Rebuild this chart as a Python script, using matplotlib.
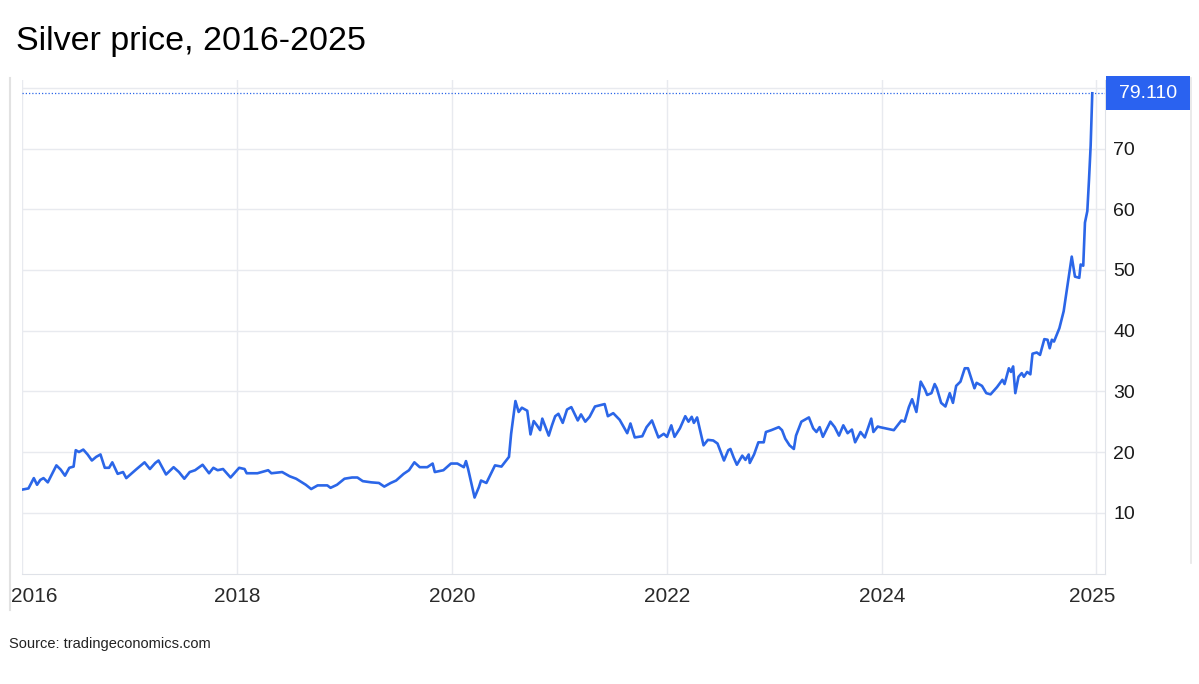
import matplotlib
matplotlib.use("Agg")
import matplotlib.pyplot as plt
import matplotlib.transforms as mtransforms
from matplotlib.patches import Rectangle
from matplotlib.lines import Line2D

plt.rcParams['font.family'] = ['Liberation Sans', 'DejaVu Sans']

# weekly-ish readings (decimal year, USD/oz)
years_a = [2016.00, 2016.06, 2016.11, 2016.14, 2016.17, 2016.20, 2016.24, 2016.32, 2016.36, 2016.40,
           2016.44, 2016.48, 2016.50, 2016.53, 2016.57, 2016.61, 2016.65, 2016.69, 2016.73, 2016.77,
           2016.81, 2016.84, 2016.89, 2016.94, 2016.97, 2017.06, 2017.14, 2017.19, 2017.24, 2017.27,
           2017.34, 2017.41, 2017.46, 2017.51, 2017.56, 2017.61, 2017.68, 2017.74, 2017.78, 2017.82,
           2017.87, 2017.94, 2018.02, 2018.07, 2018.09, 2018.19, 2018.29, 2018.32, 2018.42, 2018.49,
           2018.55, 2018.64, 2018.69, 2018.75, 2018.84, 2018.87, 2018.93, 2019.00, 2019.07, 2019.12,
           2019.17, 2019.25, 2019.32, 2019.37, 2019.43, 2019.48, 2019.55, 2019.60, 2019.65, 2019.70,
           2019.77, 2019.82, 2019.84, 2019.92, 2019.99, 2020.05, 2020.11, 2020.13, 2020.15, 2020.21,
           2020.25, 2020.27, 2020.32, 2020.40, 2020.46, 2020.53, 2020.55]
prices_a = [13.8, 14.0, 15.7, 14.6, 15.4, 15.7, 15.0, 17.8, 17.1, 16.1,
            17.4, 17.6, 20.3, 20.0, 20.4, 19.6, 18.6, 19.2, 19.6, 17.4,
            17.4, 18.3, 16.4, 16.7, 15.7, 17.1, 18.3, 17.2, 18.2, 18.6,
            16.3, 17.5, 16.7, 15.6, 16.7, 17.0, 17.9, 16.5, 17.4, 17.0,
            17.2, 15.8, 17.4, 17.2, 16.5, 16.5, 17.0, 16.5, 16.7, 16.0,
            15.6, 14.6, 13.9, 14.5, 14.5, 14.1, 14.6, 15.6, 15.8, 15.8,
            15.2, 15.0, 14.9, 14.3, 14.9, 15.3, 16.4, 17.0, 18.3, 17.5,
            17.5, 18.1, 16.7, 17.0, 18.1, 18.1, 17.5, 18.5, 17.2, 12.5,
            14.2, 15.3, 14.9, 17.8, 17.6, 19.2, 23.0]

years_b = [2020.59, 2020.62, 2020.65, 2020.70, 2020.73, 2020.76, 2020.79, 2020.82, 2020.84, 2020.90,
           2020.93, 2020.96, 2020.99, 2021.03, 2021.07, 2021.11, 2021.17, 2021.20, 2021.24, 2021.28,
           2021.33, 2021.42, 2021.45, 2021.50, 2021.56, 2021.63, 2021.66, 2021.70, 2021.77, 2021.81,
           2021.86, 2021.92, 2021.97, 2022.00, 2022.04, 2022.07, 2022.12, 2022.17, 2022.20, 2022.23,
           2022.25, 2022.28, 2022.34, 2022.38, 2022.43, 2022.47, 2022.53, 2022.57, 2022.59, 2022.62,
           2022.65, 2022.70, 2022.73, 2022.76, 2022.77, 2022.81, 2022.85, 2022.90, 2022.92, 2022.97,
           2023.04, 2023.07, 2023.10, 2023.14, 2023.18, 2023.20, 2023.25, 2023.28, 2023.32, 2023.36,
           2023.39, 2023.42, 2023.45, 2023.52, 2023.56, 2023.60, 2023.64, 2023.68, 2023.72, 2023.75,
           2023.80, 2023.84, 2023.90, 2023.92, 2023.96]
prices_b = [28.4, 26.6, 27.3, 26.8, 22.9, 25.1, 24.4, 23.6, 25.5, 22.7,
            24.4, 25.9, 26.3, 24.8, 27.0, 27.4, 25.2, 26.2, 25.0, 25.8,
            27.5, 27.9, 25.9, 26.4, 25.3, 23.1, 24.7, 22.4, 22.6, 24.1,
            25.2, 22.4, 23.0, 22.5, 24.4, 22.5, 23.9, 25.9, 25.0, 25.8,
            24.8, 25.7, 21.1, 22.0, 21.9, 21.4, 18.6, 20.3, 20.5, 19.1,
            17.9, 19.4, 18.7, 19.6, 18.2, 19.6, 21.6, 21.6, 23.3, 23.6,
            24.1, 23.6, 22.2, 21.1, 20.5, 22.7, 25.0, 25.3, 25.7, 23.9,
            23.3, 24.1, 22.5, 25.0, 24.1, 22.7, 24.4, 23.1, 23.7, 21.6,
            23.3, 22.4, 25.5, 23.3, 24.2]

years_c = [2023.98, 2024.11, 2024.18, 2024.21, 2024.25, 2024.28, 2024.32, 2024.36, 2024.40, 2024.42,
           2024.46, 2024.49, 2024.51, 2024.55, 2024.59, 2024.63, 2024.66, 2024.69, 2024.73, 2024.77,
           2024.80, 2024.86, 2024.88, 2024.93, 2024.97, 2025.01, 2025.07, 2025.12, 2025.14, 2025.18,
           2025.20, 2025.22, 2025.24, 2025.27, 2025.30, 2025.32, 2025.35, 2025.38, 2025.40, 2025.44,
           2025.47, 2025.51, 2025.54, 2025.56, 2025.58, 2025.60, 2025.65, 2025.69, 2025.72, 2025.765,
           2025.795, 2025.835, 2025.848, 2025.872, 2025.888, 2025.910, 2025.926, 2025.941, 2025.956]
prices_c = [24.1, 23.6, 25.2, 25.0, 27.4, 28.7, 26.6, 31.6, 30.3, 29.4,
            29.7, 31.2, 30.5, 28.1, 27.5, 29.7, 28.1, 30.9, 31.6, 33.8,
            33.8, 30.5, 31.4, 30.9, 29.7, 29.5, 30.7, 31.9, 31.2, 33.8,
            33.2, 34.1, 29.7, 32.4, 33.0, 32.4, 33.2, 32.8, 36.2, 36.4,
            36.0, 38.6, 38.5, 37.1, 38.5, 38.2, 40.4, 43.2, 46.8, 52.2,
            48.9, 48.7, 50.9, 50.7, 57.8, 59.7, 65.0, 70.5, 79.11]

years = years_a + years_b + years_c
prices = prices_a + prices_b + prices_c
last_price = prices[-1]

x_ticks = [2016, 2018, 2020, 2022, 2024, 2025.99]
x_labels = ["2016", "2018", "2020", "2022", "2024", "2025"]
y_ticks = [10, 20, 30, 40, 50, 60, 70, 80]
y_labels = ["10", "20", "30", "40", "50", "60", "70", ""]

W, H = 1199, 684
fig = plt.figure(figsize=(W / 100, H / 100), dpi=100)
ax = fig.add_axes([22 / W, 110 / H, 1083 / W, 494 / H])

line_blue = '#2b66e8'
grid_col = '#e8eaef'

ax.plot(years, prices, color=line_blue, lw=1.9, solid_joinstyle='round', zorder=3)
ax.axhline(last_price, color=line_blue, lw=0.9, ls=(0, (1, 1.6)), zorder=2)

ax.set_xlim(2016, 2016 + 1083 / 107.5)
ax.set_ylim(-0.1, 81.3)

ax.set_xticks(x_ticks)
ax.set_xticklabels(x_labels)
ax.set_yticks(y_ticks)
ax.set_yticklabels(y_labels)
ax.yaxis.tick_right()
ax.tick_params(axis='x', length=0, pad=9.5, labelsize=15, labelcolor='#2a2a2a')
ax.tick_params(axis='y', length=0, pad=6, labelsize=14, labelcolor='#1a1a1a')
ax.grid(True, color=grid_col, lw=1)
ax.set_axisbelow(True)

for side in ['left', 'top']:
    ax.spines[side].set_visible(False)
ax.spines['right'].set_color('#dfe2e8')
ax.spines['bottom'].set_color('#dfe2e8')

# nudge the end labels like the original
xl = ax.get_xticklabels()
xl[0].set_transform(xl[0].get_transform() + mtransforms.ScaledTranslation(12 / 100, 0, fig.dpi_scale_trans))
xl[-1].set_transform(xl[-1].get_transform() + mtransforms.ScaledTranslation(-4 / 100, 0, fig.dpi_scale_trans))

# last price marker box
trans = mtransforms.blended_transform_factory(ax.transAxes, ax.transData)
bw = 84 / 1083
bh = 34 / 6.07
x0 = 1.0 + 1 / 1083
ax.add_patch(Rectangle((x0, last_price - bh / 2), bw, bh, transform=trans,
                       facecolor='#2a62f0', edgecolor='none', clip_on=False, zorder=4))
ax.text(x0 + bw / 2, last_price, f"{last_price:.3f}", transform=trans, color='white',
        fontsize=14, ha='center', va='center', zorder=5)

# frame lines
fig.add_artist(Line2D([10 / W, 10 / W], [1 - 78 / H, 1 - 610 / H], color='#e2e2e2', lw=1.5))
fig.add_artist(Line2D([1191 / W, 1191 / W], [1 - 78 / H, 1 - 563 / H], color='#e6e6e6', lw=1.2))

fig.text(16 / W, 1 - 50 / H, "Silver price, 2016-2025", fontsize=24.5, color='black',
         ha='left', va='baseline')
fig.text(9 / W, 1 - 648 / H, "Source: tradingeconomics.com", fontsize=10.5, color='#222222',
         ha='left', va='baseline')

fig.savefig("out.png", dpi=100)
